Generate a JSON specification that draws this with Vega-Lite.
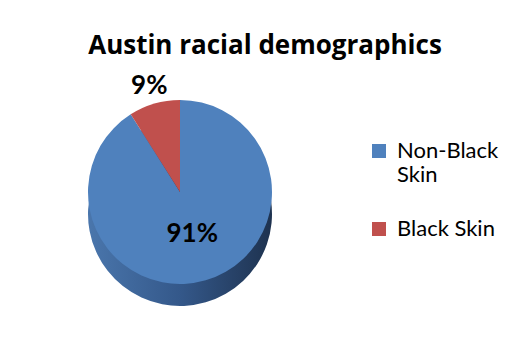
{
  "$schema": "https://vega.github.io/schema/vega-lite/v6.json",
  "width": 360,
  "height": 244,
  "autosize": {"type": "none"},
  "padding": {"left": 0, "top": 70, "right": 163, "bottom": 25},
  "background": "white",
  "title": {
    "text": "Austin racial demographics",
    "font": "Open Sans",
    "fontSize": 26,
    "fontWeight": "bold",
    "color": "black",
    "anchor": "middle",
    "frame": "group",
    "dx": 85,
    "offset": 11
  },
  "data": {
    "values": [
      {"group": "Non-Black Skin", "share": 0.91, "rank": 1},
      {"group": "Black Skin", "share": 0.09, "rank": 2}
    ]
  },
  "encoding": {
    "theta": {"field": "share", "type": "quantitative", "stack": true},
    "order": {"field": "rank", "type": "quantitative"}
  },
  "layer": [
    {
      "mark": {
        "type": "arc",
        "outerRadius": 92,
        "yOffset": 22,
        "fill": {
          "gradient": "linear",
          "x1": 0, "y1": 0, "x2": 1, "y2": 0,
          "stops": [
            {"offset": 0, "color": "#4a76ac"},
            {"offset": 0.5, "color": "#34588a"},
            {"offset": 1, "color": "#1e324f"}
          ]
        }
      }
    },
    {
      "mark": {"type": "arc", "outerRadius": 92},
      "encoding": {
        "color": {
          "field": "group",
          "type": "nominal",
          "sort": ["Non-Black Skin", "Black Skin"],
          "scale": {"domain": ["Non-Black Skin", "Black Skin"], "range": ["#4F81BD", "#C0504D"]},
          "legend": {
            "title": null,
            "orient": "none",
            "legendX": 368,
            "legendY": 70,
            "symbolType": "square",
            "symbolSize": 196,
            "symbolStrokeWidth": 0,
            "labelFont": "Lato",
            "labelFontSize": 22,
            "labelColor": "black",
            "labelLimit": 200,
            "labelOffset": 7,
            "labelExpr": "datum.label == 'Non-Black Skin' ? ['Non-Black', 'Skin'] : datum.label",
            "rowPadding": 32
          }
        }
      }
    },
    {
      "mark": {
        "type": "text",
        "font": "Lato",
        "fontSize": 26,
        "fontWeight": "bold",
        "color": "black",
        "radius": {"expr": "datum.group == 'Black Skin' ? 110 : 44"}
      },
      "encoding": {
        "text": {"field": "share", "type": "quantitative", "format": ".0%"}
      }
    }
  ],
  "config": {"view": {"stroke": null}}
}
